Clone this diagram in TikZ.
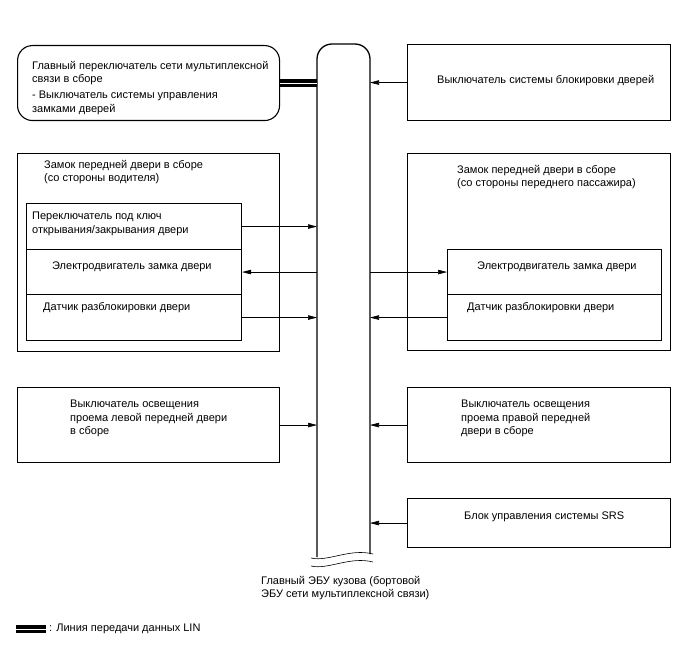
\documentclass[tikz,border=0pt]{standalone}
\usepackage{fontspec}
\setmainfont{Liberation Sans}
\usetikzlibrary{arrows.meta,positioning}

\tikzset{
  box/.style={draw, line width=1.1pt, inner sep=0pt, anchor=north west},
  lbl/.style={anchor=north west, inner sep=0pt, align=left,
    font=\fontsize{11}{13.6}\selectfont},
  sig/.style={line width=0.6pt, -{Triangle[length=9pt,width=4.5pt]}},
  lin/.style={line width=3.3pt, double=white, double distance=0.9pt},
}

\begin{document}
\begin{tikzpicture}[x=1pt,y=-1pt]
  \useasboundingbox (0,0) rectangle (688,658);

  % main body ECU bar
  \draw[line width=1.3pt, rounded corners=15pt] (317,557) -- (317,44) -- (370,44) -- (370,554);
  \draw[line width=0.6pt] (311,558) .. controls (328,562) and (350,548) .. (373,554);
  \draw[line width=0.6pt] (311,566) .. controls (328,570) and (350,556) .. (373,562);
  \coordinate (ecuL) at (317,0);
  \coordinate (ecuR) at (370,0);
  \node[lbl] (ecu) at (261,576) {Главный ЭБУ кузова (бортовой\\ЭБУ сети мультиплексной связи)};

  % top row
  \node[box, rounded corners=15pt, minimum width=262pt, minimum height=75pt] (mainsw) at (17,45) {};
  \node[lbl] (mainswT) at (32,61) {Главный переключатель сети мультиплексной\\связи в сборе\\[2pt]- Выключатель системы управления\\замками дверей};
  \node[box, minimum width=263pt, minimum height=76pt] (lock) at (407,44) {};
  \node[lbl] (lockT) at (437,75) {Выключатель системы блокировки дверей};
  \draw[lin] (mainsw.east) -- (mainsw.east -| ecuL);
  \draw[sig] (lock.west) -- (lock.west -| ecuR);

  % driver side door lock
  \node[box, minimum width=262pt, minimum height=198pt] (drv) at (17,153) {};
  \node[lbl] (drvT) at (44,160) {Замок передней двери в сборе\\(со стороны водителя)};
  \node[box, minimum width=215pt, minimum height=46pt] (dkey) at (26,203) {};
  \node[box, minimum width=215pt, minimum height=45pt] (dmot) at (26,249) {};
  \node[box, minimum width=215pt, minimum height=46pt] (dsen) at (26,294) {};
  \node[lbl] at (32,212) {Переключатель под ключ\\открывания/закрывания двери};
  \node[lbl] at (52,262) {Электродвигатель замка двери};
  \node[lbl] at (43,302) {Датчик разблокировки двери};
  \draw[sig] (dkey.east) -- (dkey.east -| ecuL);
  \draw[sig] (dmot.east -| ecuL) -- (dmot.east);
  \draw[sig] (dsen.east) -- (dsen.east -| ecuL);

  % passenger side door lock
  \node[box, minimum width=263pt, minimum height=197pt] (pas) at (407,153) {};
  \node[lbl] (pasT) at (457,165) {Замок передней двери в сборе\\(со стороны переднего пассажира)};
  \node[box, minimum width=214pt, minimum height=45pt] (pmot) at (447,249) {};
  \node[box, minimum width=214pt, minimum height=46pt] (psen) at (447,294) {};
  \node[lbl] at (477,262) {Электродвигатель замка двери};
  \node[lbl] at (467,302) {Датчик разблокировки двери};
  \draw[sig] (pmot.west -| ecuR) -- (pmot.west);
  \draw[sig] (psen.west) -- (psen.west -| ecuR);

  % courtesy light switches
  \node[box, minimum width=262pt, minimum height=75pt] (cl) at (17,387) {};
  \node[lbl] at (70,400) {Выключатель освещения\\проема левой передней двери\\в сборе};
  \node[box, minimum width=263pt, minimum height=75pt] (cr) at (407,387) {};
  \node[lbl] at (461,400) {Выключатель освещения\\проема правой передней\\двери в сборе};
  \draw[sig] (cl.east) -- (cl.east -| ecuL);
  \draw[sig] (cr.west) -- (cr.west -| ecuR);

  % airbag ECU
  \node[box, minimum width=263pt, minimum height=49pt] (srs) at (407,498) {};
  \node[lbl] at (464,512) {Блок управления системы SRS};
  \draw[sig] (srs.west) -- (srs.west -| ecuR);

  % legend
  \coordinate (legA) at (16,629);
  \coordinate (legB) at (46,629);
  \draw[lin] (legA) -- (legB);
  \node[lbl, anchor=west] (legT) at (49,629) {: Линия передачи данных LIN};
\end{tikzpicture}
\end{document}
